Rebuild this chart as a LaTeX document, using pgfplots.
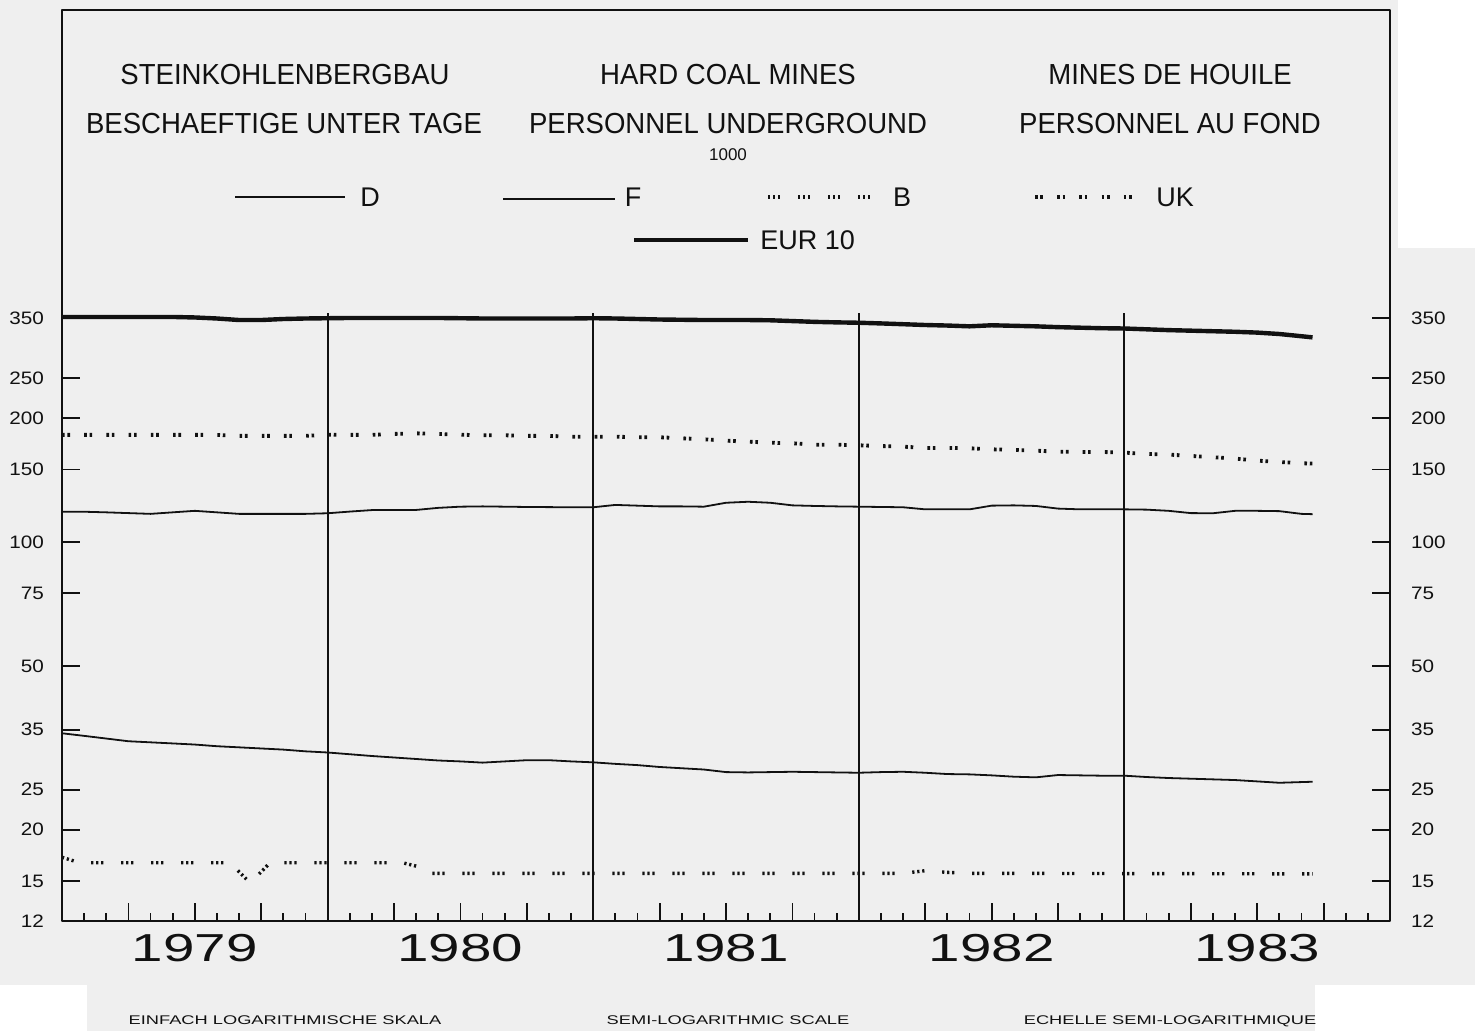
\documentclass[border=0pt]{standalone}
\usepackage{pgfplots}
\pgfplotsset{compat=1.18}
\usepackage{fontspec}
\setmainfont{Liberation Sans}
\newfontfamily\titlefont[FakeStretch=0.95]{Liberation Sans}
\newfontfamily\yearfont[FakeStretch=1.45]{Liberation Sans}
\newfontfamily\tickfont[FakeStretch=1.15]{Liberation Sans}
\newfontfamily\smallfont[FakeStretch=1.45]{Liberation Sans}
\definecolor{bg}{HTML}{EFEFEF}
\definecolor{ink}{HTML}{111111}

\begin{document}
\begin{tikzpicture}
\fill[bg] (0,0) rectangle (737.5pt,-515.5pt);
\fill[white] (699pt,0) rectangle (737.5pt,-124pt);
\fill[white] (0,-492.5pt) rectangle (737.5pt,-515.5pt);
\fill[bg] (43.5pt,-492.5pt) rectangle (657.5pt,-515.5pt);

\begin{axis}[
  at={(31pt,-460.5pt)}, anchor=south west,
  scale only axis, width=664pt, height=455.5pt,
  xmin=0, xmax=60, ymode=log, ymin=12, ymax=1960,
  axis line style={line width=1.2pt, ink},
  tick align=inside,
  major tick length=9pt, minor tick length=4pt,
  every tick/.style={line width=0.9pt, ink},
  xtick pos=bottom,
  xtick={6,18,30,42,54}, xticklabels={1979,1980,1981,1982,1983},
  extra x ticks={3,9,15,21,27,33,39,45,51,57},
  extra x tick labels={},
  minor xtick={1,2,4,5,7,8,10,11,13,14,16,17,19,20,22,23,25,26,28,29,31,32,34,35,37,38,40,41,43,44,46,47,49,50,52,53,55,56,58,59},
  ytick pos=left,
  ytick={12,15,20,25,35,50,75,100,150,200,250,350},
  yticklabels={12,15,20,25,35,50,75,100,150,200,250,350},
  xticklabel style={font=\yearfont\fontsize{19.5}{20}\selectfont, text=ink, yshift=-3pt},
  yticklabel style={font=\tickfont\fontsize{9}{9}\selectfont, xshift=-5.5pt, text=ink},
  no markers, line join=round,
]
% year separators
\draw[line width=1pt, ink] (axis cs:12,12) -- (axis cs:12,360);
\draw[line width=1pt, ink] (axis cs:24,12) -- (axis cs:24,360);
\draw[line width=1pt, ink] (axis cs:36,12) -- (axis cs:36,360);
\draw[line width=1pt, ink] (axis cs:48,12) -- (axis cs:48,360);

% EUR 10
\addplot[line width=2.2pt, ink] coordinates {
(0,352)(1,352)(2,352)(3,352)(4,352)(5,352)(6,351)(7,349)(8,346)(9,346)(10,348)(11,349)
(12,349.5)(13,350)(14,350)(15,350)(16,350)(17,350)(18,349.5)(19,349)(20,349)(21,349)(22,349)(23,349)
(24,349.5)(25,349)(26,348)(27,347)(28,346.5)(29,346)(30,346)(31,346)(32,345.5)(33,344)(34,342.5)(35,341.5)
(36,340.8)(37,339.5)(38,338)(39,336.5)(40,335.5)(41,334)(42,336)(43,335)(44,334)(45,332.5)(46,331.5)(47,330.5)
(48,330)(49,328.5)(50,327)(51,326)(52,325)(53,324)(54,322.5)(55,320)(56,316)(56.5,314)};

% D
\addplot[line width=0.9pt, ink] coordinates {
(0,118.4)(1,118.4)(2,118)(3,117.5)(4,117)(5,118)(6,119)(7,118)(8,117)(9,117)(10,117)(11,117)
(12,117.4)(13,118.5)(14,119.5)(15,119.6)(16,119.6)(17,121)(18,121.8)(19,122)(20,121.8)(21,121.6)(22,121.5)(23,121.4)
(24,121.4)(25,123)(26,122.5)(27,122)(28,122)(29,121.8)(30,124.5)(31,125.2)(32,124.5)(33,122.7)(34,122.3)(35,122)
(36,121.8)(37,121.6)(38,121.4)(39,120)(40,120)(41,120)(42,122.5)(43,122.7)(44,122.3)(45,120.5)(46,120)(47,120)
(48,120)(49,119.8)(50,119)(51,117.5)(52,117.4)(53,119)(54,119)(55,118.8)(56,117)(56.5,116.8)};

% F
\addplot[line width=0.9pt, ink] coordinates {
(0,34.3)(1,33.8)(2,33.3)(3,32.8)(4,32.6)(5,32.4)(6,32.2)(7,31.9)(8,31.7)(9,31.5)(10,31.3)(11,31.0)
(12,30.8)(13,30.5)(14,30.2)(15,29.95)(16,29.7)(17,29.45)(18,29.3)(19,29.1)(20,29.3)(21,29.5)(22,29.5)(23,29.3)
(24,29.15)(25,28.9)(26,28.7)(27,28.4)(28,28.2)(29,28.0)(30,27.6)(31,27.55)(32,27.6)(33,27.65)(34,27.6)(35,27.55)
(36,27.5)(37,27.6)(38,27.65)(39,27.5)(40,27.3)(41,27.25)(42,27.1)(43,26.9)(44,26.8)(45,27.15)(46,27.1)(47,27.05)
(48,27.05)(49,26.85)(50,26.7)(51,26.6)(52,26.5)(53,26.4)(54,26.2)(55,26.0)(56,26.1)(56.5,26.15)};

% UK
\addplot[line width=1.9pt, ink, dash pattern=on 1.3pt off 1.4pt on 1.3pt off 7.1pt] coordinates {
(0,182)(1,182)(2,182)(3,182)(4,182)(5,182)(6,182)(7,182)(8,181)(9,181)(10,181)(11,181)
(12,182.2)(13,182)(14,182)(15,183)(16,183.6)(17,183)(18,182.2)(19,181.6)(20,181.6)(21,181)(22,181)(23,180.2)
(24,180.2)(25,180.2)(26,179.6)(27,179.6)(28,178.6)(29,177.6)(30,176.2)(31,175.2)(32,174.2)(33,173.7)(34,172.3)(35,172.3)
(36,171.7)(37,171)(38,170.4)(39,169.2)(40,169.2)(41,168.9)(42,167.9)(43,167.3)(44,166.6)(45,165.7)(46,165.4)(47,165.4)
(48,164.8)(49,163.6)(50,163)(51,161.8)(52,160.6)(53,159.4)(54,157.6)(55,156.4)(56,155.3)(56.5,155)};

% B
\addplot[line width=1.7pt, ink, dash pattern=on 1.1pt off 1.4pt on 1.1pt off 1.4pt on 1.1pt off 8.9pt] coordinates {
(0,17.14)(0.8,16.62)(7.6,16.62)(8.5,14.85)(9.4,16.62)(15.4,16.62)(16.1,16.26)(16.7,15.67)
(30,15.67)(38,15.67)(39,15.9)(40,15.75)(41,15.67)(56.5,15.62)};
\end{axis}

\begin{axis}[
  at={(31pt,-460.5pt)}, anchor=south west,
  scale only axis, width=664pt, height=455.5pt,
  xmin=0, xmax=60, ymode=log, ymin=12, ymax=1960,
  hide x axis, axis y line*=right,
  axis line style={line width=1.2pt, ink},
  tick align=inside, major tick length=9pt,
  every tick/.style={line width=0.9pt, ink},
  ytick={12,15,20,25,35,50,75,100,150,200,250,350},
  yticklabels={12,15,20,25,35,50,75,100,150,200,250,350},
  yticklabel style={font=\tickfont\fontsize{9}{9}\selectfont, xshift=7pt, text=ink},
]
\end{axis}

% titles
\begin{scope}[every node/.style={text=ink, inner sep=0pt}]
\node[anchor=base, font=\titlefont\fontsize{14.5}{15}\selectfont] at (142.5pt,-42.5pt) {STEINKOHLENBERGBAU};
\node[anchor=base, font=\titlefont\fontsize{14.5}{15}\selectfont] at (142pt,-67pt) {BESCHAEFTIGE UNTER TAGE};
\node[anchor=base, font=\titlefont\fontsize{14.5}{15}\selectfont] at (364pt,-42.5pt) {HARD COAL MINES};
\node[anchor=base, font=\titlefont\fontsize{14.5}{15}\selectfont] at (364pt,-67pt) {PERSONNEL UNDERGROUND};
\node[anchor=base, font=\titlefont\fontsize{14.5}{15}\selectfont] at (585pt,-42.5pt) {MINES DE HOUILE};
\node[anchor=base, font=\titlefont\fontsize{14.5}{15}\selectfont] at (585pt,-67pt) {PERSONNEL AU FOND};
\node[anchor=base, font=\fontsize{8.5}{9}\selectfont] at (364pt,-80.5pt) {1000};

% legend
\draw[line width=0.9pt, ink] (117.5pt,-98.5pt) -- (172.5pt,-98.5pt);
\node[anchor=base, font=\fontsize{13.5}{14}\selectfont] at (185pt,-103.5pt) {D};
\draw[line width=0.9pt, ink] (251.5pt,-99.5pt) -- (307.5pt,-99.5pt);
\node[anchor=base, font=\fontsize{13.5}{14}\selectfont] at (316.5pt,-103.5pt) {F};
\draw[line width=1.7pt, ink, dash pattern=on 1.1pt off 1.4pt on 1.1pt off 1.4pt on 1.1pt off 8.9pt] (384pt,-98.5pt) -- (440pt,-98.5pt);
\node[anchor=base, font=\fontsize{13.5}{14}\selectfont] at (451pt,-103.5pt) {B};
\draw[line width=1.9pt, ink, dash pattern=on 1.3pt off 1.4pt on 1.3pt off 7.1pt] (517.5pt,-98.5pt) -- (568pt,-98.5pt);
\node[anchor=base, font=\fontsize{13.5}{14}\selectfont] at (587.5pt,-103.5pt) {UK};
\draw[line width=2.2pt, ink] (317pt,-120pt) -- (374pt,-120pt);
\node[anchor=base west, font=\fontsize{13.5}{14}\selectfont] at (380pt,-125pt) {EUR 10};

% bottom captions
\node[anchor=base, font=\smallfont\fontsize{6.3}{7}\selectfont] at (142.5pt,-512pt) {EINFACH LOGARITHMISCHE SKALA};
\node[anchor=base, font=\smallfont\fontsize{6.3}{7}\selectfont] at (364pt,-512pt) {SEMI-LOGARITHMIC SCALE};
\node[anchor=base, font=\smallfont\fontsize{6.3}{7}\selectfont] at (585pt,-512pt) {ECHELLE SEMI-LOGARITHMIQUE};
\end{scope}

\pgfresetboundingbox
\useasboundingbox (0,0) rectangle (737.5pt,-515.5pt);
\end{tikzpicture}
\end{document}
